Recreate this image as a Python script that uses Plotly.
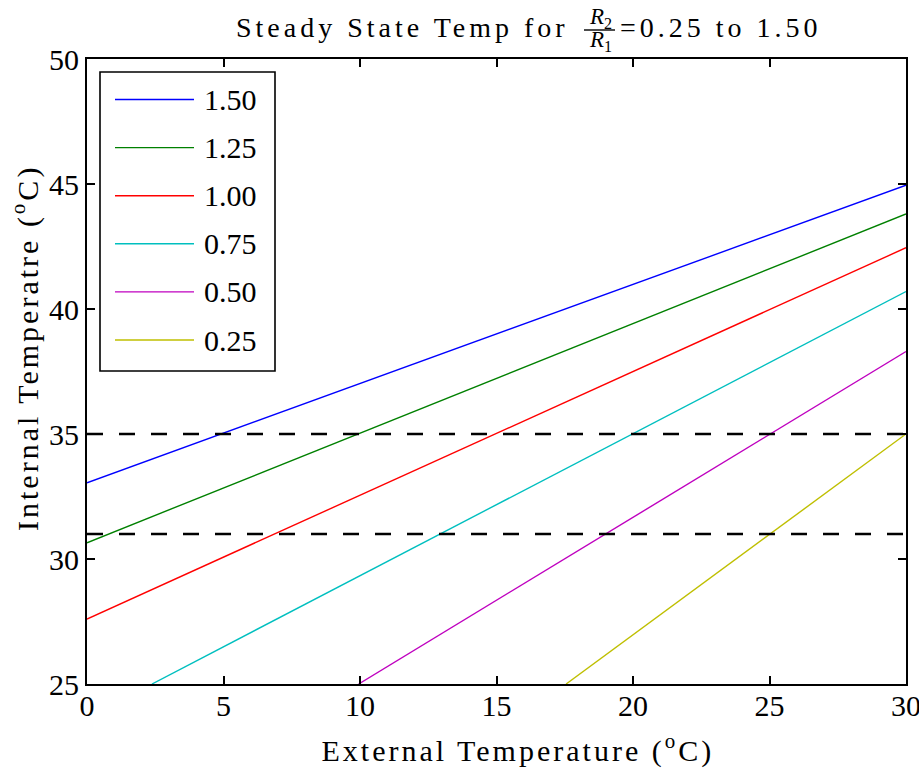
import plotly.graph_objects as go

# Resistance ratios R2/R1 and the line colour used for each
ratios = ["1.50", "1.25", "1.00", "0.75", "0.50", "0.25"]
colors = ["#0000ff", "#008000", "#ff0000", "#00bfbf", "#bf00bf", "#bfbf00"]

# Straight steady-state lines: (external temp, internal temp) end points
x_start = [0.0, 0.0, 0.0, 2.38, 9.95, 17.55]
y_start = [33.05, 30.65, 27.6, 25.0, 25.0, 25.0]
x_end = [30.0, 30.0, 30.0, 30.0, 30.0, 30.0]
y_end = [44.95, 43.8, 42.45, 40.7, 38.3, 35.0]

# Comfort band limits drawn as dashed lines
limits = [35.0, 31.0]

x_ticks = [0, 5, 10, 15, 20, 25, 30]
y_ticks = [25, 30, 35, 40, 45, 50]

FONT = "Liberation Serif"
W, H = 919, 770
ML, MR, MT, MB = 87, 13, 59, 86
PW, PH = W - ML - MR, H - MT - MB


def px(x):
    return (x - ML) / PW


def py(y):
    return (H - MB - y) / PH


fig = go.Figure()

for name, c, xs, ys, xe, ye in zip(ratios, colors, x_start, y_start, x_end, y_end):
    fig.add_trace(go.Scatter(x=[xs, xe], y=[ys, ye], mode="lines", name=name,
                             line=dict(color=c, width=1.4), showlegend=False))

for lim in limits:
    fig.add_trace(go.Scatter(x=[x_ticks[0], x_ticks[-1]], y=[lim, lim], mode="lines",
                             line=dict(color="black", width=2.4, dash="16px,16px"),
                             showlegend=False))

shapes = []
annotations = []

# Legend box with a line sample and label per ratio
shapes.append(dict(type="rect", xref="paper", yref="paper",
                   x0=px(100), x1=px(275), y0=py(371), y1=py(72),
                   line=dict(color="black", width=1.6), fillcolor="white", layer="above"))
for i, (name, c) in enumerate(zip(ratios, colors)):
    yy = 99.5 + 48.1 * i
    shapes.append(dict(type="line", xref="paper", yref="paper",
                       x0=px(115), x1=px(194), y0=py(yy), y1=py(yy),
                       line=dict(color=c, width=1.4), layer="above"))
    annotations.append(dict(text=name, xref="paper", yref="paper", x=px(202), y=py(yy),
                            xanchor="left", yanchor="middle", showarrow=False,
                            font=dict(family=FONT, size=30, color="black")))

# Title: text, stacked fraction R2/R1, then the range
tfont = dict(family=FONT, size=28, color="black")
ffont = dict(family=FONT, size=23, color="black")
annotations.append(dict(text="Steady State Temp for", xref="paper", yref="paper",
                        x=px(402), y=py(27), xanchor="center", yanchor="middle",
                        showarrow=False, font=tfont))
annotations.append(dict(text="<i>R</i><sub>2</sub>", xref="paper", yref="paper",
                        x=px(600), y=py(18), xanchor="center", yanchor="middle",
                        showarrow=False, font=ffont))
annotations.append(dict(text="<i>R</i><sub>1</sub>", xref="paper", yref="paper",
                        x=px(600), y=py(41), xanchor="center", yanchor="middle",
                        showarrow=False, font=ffont))
shapes.append(dict(type="line", xref="paper", yref="paper",
                   x0=px(584), x1=px(615), y0=py(30), y1=py(30),
                   line=dict(color="black", width=1.4)))
annotations.append(dict(text="=0.25 to 1.50", xref="paper", yref="paper",
                        x=px(721), y=py(27), xanchor="center", yanchor="middle",
                        showarrow=False, font=tfont))

# Axis titles
afont = dict(family=FONT, size=30, color="black")
annotations.append(dict(text="External Temperature (<sup>o</sup>C)", xref="paper", yref="paper",
                        x=px(518), y=py(748), xanchor="center", yanchor="middle",
                        showarrow=False, font=afont))
annotations.append(dict(text="Internal Temperatre (<sup>o</sup>C)", xref="paper", yref="paper",
                        x=px(25), y=py(348), xanchor="center", yanchor="middle",
                        textangle=-90, showarrow=False, font=afont))

axis_common = dict(showline=True, linecolor="black", linewidth=2, mirror="ticks",
                   ticks="inside", ticklen=8, tickwidth=1.5, tickcolor="black",
                   showgrid=False, zeroline=False, ticklabeloverflow="allow",
                   automargin=False,
                   tickfont=dict(family=FONT, size=30, color="black"))

fig.update_layout(
    width=W, height=H,
    margin=dict(l=ML, r=MR, t=MT, b=MB, autoexpand=False),
    paper_bgcolor="white", plot_bgcolor="white",
    xaxis=dict(range=[x_ticks[0], x_ticks[-1]], tickvals=x_ticks,
               ticklabelstandoff=-6, **axis_common),
    yaxis=dict(range=[y_ticks[0], y_ticks[-1]], tickvals=y_ticks, **axis_common),
    shapes=shapes, annotations=annotations, showlegend=False,
)

# Widen the letter spacing of the longer text runs (titles)
spacing_js = """
document.querySelectorAll('.annotation-text').forEach(function (t) {
  if (t.textContent.length > 5) {
    var fs = parseFloat(t.style.fontSize);
    t.style.letterSpacing = (fs < 29 ? '4px' : '3px');
  }
});
"""

fig.write_html("out.html", post_script=spacing_js)
